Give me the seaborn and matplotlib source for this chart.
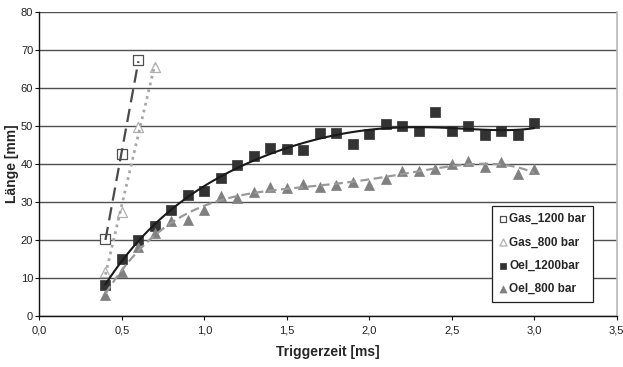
import matplotlib
matplotlib.use("Agg")
import matplotlib.pyplot as plt
import seaborn as sns
from matplotlib.ticker import FuncFormatter, MultipleLocator

# ---- data ----
x_gas1200 = [0.4, 0.5, 0.6]
y_gas1200 = [20.4, 42.8, 67.5]
x_gas800 = [0.4, 0.5, 0.6, 0.7]
y_gas800 = [11.5, 27.5, 49.8, 65.6]
x_oel = [0.4, 0.5, 0.6, 0.7, 0.8, 0.9, 1.0, 1.1, 1.2, 1.3, 1.4, 1.5, 1.6, 1.7,
         1.8, 1.9, 2.0, 2.1, 2.2, 2.3, 2.4, 2.5, 2.6, 2.7, 2.8, 2.9, 3.0]
y_oel1200 = [8.2, 15.0, 19.9, 23.6, 27.8, 31.8, 33.0, 36.4, 39.7, 42.2, 44.2, 44.0,
             43.7, 48.2, 48.2, 45.3, 47.9, 50.5, 50.0, 48.7, 53.7, 48.7, 50.0, 47.6,
             48.7, 47.6, 50.8]
y_oel800 = [5.6, 11.7, 18.3, 21.9, 24.9, 25.4, 27.8, 31.5, 31.1, 32.7, 34.0, 33.7,
            34.8, 34.1, 34.5, 35.4, 34.6, 36.1, 38.2, 38.3, 38.6, 40.1, 40.8, 39.3,
            40.6, 37.4, 38.6]
labels = ["Gas_1200 bar", "Gas_800 bar", "Oel_1200bar", "Oel_800 bar"]
x_label = "Triggerzeit [ms]"
y_label = "Länge [mm]"

sns.set_style("white")
plt.rcParams["font.family"] = ["Liberation Sans", "DejaVu Sans"]

fig, ax = plt.subplots(figsize=(6.23, 3.67), dpi=100)
fig.subplots_adjust(left=0.0634, right=0.9896, top=0.9665, bottom=0.139)

# trendlines
sns.regplot(x=x_gas1200, y=y_gas1200, order=1, ci=None, scatter=False, ax=ax,
            line_kws=dict(color="#4a4a4a", lw=1.6, ls=(0, (6, 3)), zorder=4))
sns.regplot(x=x_gas800, y=y_gas800, order=1, ci=None, scatter=False, ax=ax,
            line_kws=dict(color="#a8a8a8", lw=2.0, ls=(0, (1, 1.5)), zorder=4))
sns.regplot(x=x_oel, y=y_oel1200, order=5, ci=None, scatter=False, ax=ax,
            line_kws=dict(color="#1a1a1a", lw=1.5, ls="-", zorder=4))
sns.regplot(x=x_oel, y=y_oel800, order=5, ci=None, scatter=False, ax=ax,
            line_kws=dict(color="#9a9a9a", lw=1.6, ls=(0, (4, 2)), zorder=4))

# markers
sns.scatterplot(x=x_gas1200, y=y_gas1200, marker="s", s=44, facecolor="white",
                edgecolor="#505050", linewidth=0.9, ax=ax, label=labels[0], zorder=3)
sns.scatterplot(x=x_gas800, y=y_gas800, marker="^", s=52, facecolor="white",
                edgecolor="#b0b0b0", linewidth=0.9, ax=ax, label=labels[1], zorder=3)
sns.scatterplot(x=x_oel, y=y_oel1200, marker="s", s=44, color="#333333",
                edgecolor="#333333", linewidth=0.5, ax=ax, label=labels[2], zorder=3)
sns.scatterplot(x=x_oel, y=y_oel800, marker="^", s=52, color="#808080",
                edgecolor="#808080", linewidth=0.5, ax=ax, label=labels[3], zorder=3)

ax.set_xlim(0, 3.5)
ax.set_ylim(0, 80)
ax.xaxis.set_major_locator(MultipleLocator(0.5))
ax.yaxis.set_major_locator(MultipleLocator(10))
ax.xaxis.set_major_formatter(FuncFormatter(lambda v, p: f"{v:.1f}".replace(".", ",")))
ax.yaxis.set_major_formatter(FuncFormatter(lambda v, p: f"{int(round(v))}"))

ax.yaxis.grid(True, color="#505050", lw=1.0)
ax.set_axisbelow(True)
for s in ["left", "bottom"]:
    ax.spines[s].set_color("#111111")
    ax.spines[s].set_linewidth(1.0)
ax.spines["top"].set_visible(False)
ax.spines["right"].set_color("#b8b8b8")
ax.spines["right"].set_linewidth(1.2)

ax.tick_params(axis="both", which="major", direction="out", length=3, width=0.8,
               color="#111111", labelsize=8, labelcolor="#222222", bottom=True, left=True)
ax.tick_params(axis="y", pad=1.5)
ax.tick_params(axis="x", pad=4)
ax.set_xlabel(x_label, fontsize=10, fontweight="bold", labelpad=7)
ax.set_ylabel(y_label, fontsize=10, fontweight="bold")
ax.yaxis.set_label_coords(-0.036, 0.5)

leg = ax.legend(loc="lower right", bbox_to_anchor=(0.959, 0.046), frameon=True,
                fancybox=False, shadow=False, framealpha=1, edgecolor="#222222",
                prop=dict(size=8.5, weight="bold"), handletextpad=0.15,
                handlelength=0.7, labelspacing=0.95, borderpad=0.6, borderaxespad=0,
                markerscale=0.7)
leg.get_frame().set_linewidth(0.9)
leg.set_zorder(10)

fig.savefig("out.png", dpi=100)
